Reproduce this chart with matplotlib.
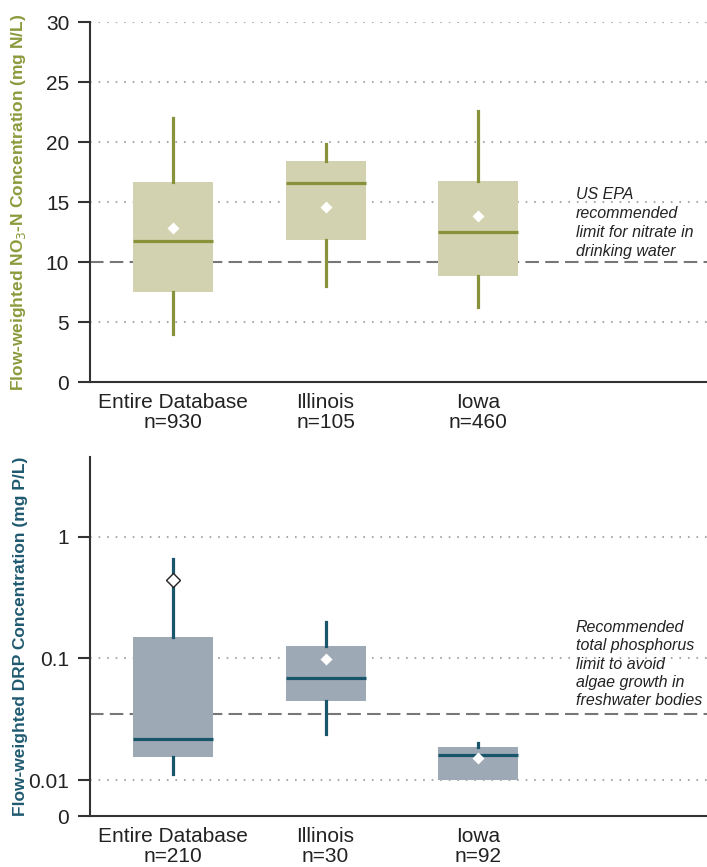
import numpy as np
import matplotlib
matplotlib.use("Agg")
import matplotlib.pyplot as plt
from matplotlib import font_manager
from matplotlib.ticker import FixedLocator, FixedFormatter, NullLocator

plt.rcParams['font.family'] = ['Liberation Sans', 'DejaVu Sans']

# --- data ---
categories = ["Entire Database", "Illinois", "Iowa"]

# nitrate (mg N/L)
no3_n = ["930", "105", "460"]
no3_whislo = [4.0, 8.0, 6.25]
no3_q1 = [7.5, 11.85, 8.8]
no3_med = [11.75, 16.6, 12.5]
no3_q3 = [16.7, 18.4, 16.75]
no3_whishi = [22.0, 19.8, 22.6]
no3_mean = [12.8, 14.55, 13.85]
no3_limit = 10
no3_ticks = [0, 5, 10, 15, 20, 25, 30]

# DRP (mg P/L)
drp_n = ["210", "30", "92"]
drp_whislo = [0.0111, 0.0239, 0.0100]
drp_q1 = [0.0156, 0.045, 0.0100]
drp_med = [0.0218, 0.0695, 0.0160]
drp_q3 = [0.150, 0.126, 0.0187]
drp_whishi = [0.652, 0.200, 0.0203]
drp_mean = [0.443, 0.098, 0.0152]
drp_limit = 0.035
drp_ticks = [0.00506, 0.01, 0.1, 1]
drp_ticklabels = ["0", "0.01", "0.1", "1"]

olive = "#87923a"
olive_fill = "#d3d2b0"
olive_label = "#8c9a3c"
blue = "#1a566b"
blue_fill = "#9da9b4"
blue_label = "#1f5a70"

names = {f.name for f in font_manager.fontManager.ttflist}
label_family = ['Liberation Sans Narrow'] if 'Liberation Sans Narrow' in names else ['Liberation Sans']
label_size = 15.3 if 'Liberation Sans Narrow' in names else 12.5

fig = plt.figure(figsize=(7.07, 8.67), dpi=100)
ax1 = fig.add_axes([0.1273, 0.5594, 0.8727, 0.4152])
ax2 = fig.add_axes([0.1273, 0.0588, 0.8727, 0.4145])

pos = np.arange(1, len(categories) + 1)


def draw_boxes(ax, lo, q1, med, q3, hi, mean, line_c, fill_c, open_mean=None):
    stats = []
    for i in range(len(lo)):
        stats.append(dict(whislo=lo[i], q1=q1[i], med=med[i], q3=q3[i],
                          whishi=hi[i], fliers=[], label=""))
    ax.bxp(stats, positions=pos, widths=0.525, patch_artist=True,
           showcaps=False, showfliers=False,
           boxprops=dict(facecolor=fill_c, edgecolor="none"),
           medianprops=dict(color=line_c, linewidth=2.3, solid_capstyle="butt"),
           whiskerprops=dict(color=line_c, linewidth=2.3),
           zorder=3)
    for i, m in enumerate(mean):
        if open_mean is not None and open_mean[i]:
            ax.plot(pos[i], m, marker="D", ms=7.5, mfc="white", mec="#222222",
                    mew=1.0, zorder=5)
        else:
            ax.plot(pos[i], m, marker="D", ms=6, mfc="white", mec="none",
                    zorder=5)


def style_axes(ax, ns, grid_vals):
    ax.set_xlim(0.456, 4.50)
    ax.spines["top"].set_visible(False)
    ax.spines["right"].set_visible(False)
    for s in ["left", "bottom"]:
        ax.spines[s].set_color("#333333")
        ax.spines[s].set_linewidth(1.5)
    ax.set_xticks(pos)
    ax.set_xticklabels([f"{c}\nn={n}" for c, n in zip(categories, ns)],
                       fontsize=15, color="#222222", linespacing=1.05)
    ax.tick_params(axis="x", length=0, pad=8)
    ax.tick_params(axis="y", length=9, width=1.5, color="#333333",
                   labelsize=15, labelcolor="#222222", pad=6)
    for g in grid_vals:
        ax.axhline(g, linestyle=(0, (0.8, 3.3)), color="#aaaaaa",
                   linewidth=1.5, zorder=0)
    ax.yaxis.set_label_coords(-0.1005, 0.5)


# --- top: nitrate ---
draw_boxes(ax1, no3_whislo, no3_q1, no3_med, no3_q3, no3_whishi, no3_mean,
           olive, olive_fill)
ax1.axhline(no3_limit, color="#777777", linestyle=(0, (6.5, 3)), linewidth=1.5,
            zorder=1)
ax1.set_ylim(0, 30)
ax1.set_yticks(no3_ticks)
style_axes(ax1, no3_n, [t for t in no3_ticks if t not in (0, no3_limit)])
ax1.set_ylabel("Flow-weighted NO$_3$-N Concentration (mg N/L)", color=olive_label,
               fontsize=label_size, fontweight="bold", family=label_family)
ax1.text(3.64, 16.25, "US EPA\nrecommended\nlimit for nitrate in\ndrinking water",
         fontsize=11.5, style="italic", color="#222222", va="top", ha="left",
         linespacing=1.32)

# --- bottom: DRP (log scale, bottom labelled 0) ---
draw_boxes(ax2, drp_whislo, drp_q1, drp_med, drp_q3, drp_whishi, drp_mean,
           blue, blue_fill, open_mean=[True, False, False])
ax2.axhline(drp_limit, color="#777777", linestyle=(0, (6.5, 3)), linewidth=1.5,
            zorder=1)
ax2.set_yscale("log")
ax2.set_ylim(drp_ticks[0], 4.54)
ax2.yaxis.set_minor_locator(NullLocator())
ax2.yaxis.set_major_locator(FixedLocator(drp_ticks))
ax2.yaxis.set_major_formatter(FixedFormatter(drp_ticklabels))
style_axes(ax2, drp_n, drp_ticks[1:])
ax2.set_ylabel("Flow-weighted DRP Concentration (mg P/L)", color=blue_label,
               fontsize=label_size, fontweight="bold", family=label_family)
ax2.text(3.64, 0.207,
         "Recommended\ntotal phosphorus\nlimit to avoid\nalgae growth in\nfreshwater bodies",
         fontsize=11.5, style="italic", color="#222222", va="top", ha="left",
         linespacing=1.28)

fig.savefig("out.png", dpi=100)
